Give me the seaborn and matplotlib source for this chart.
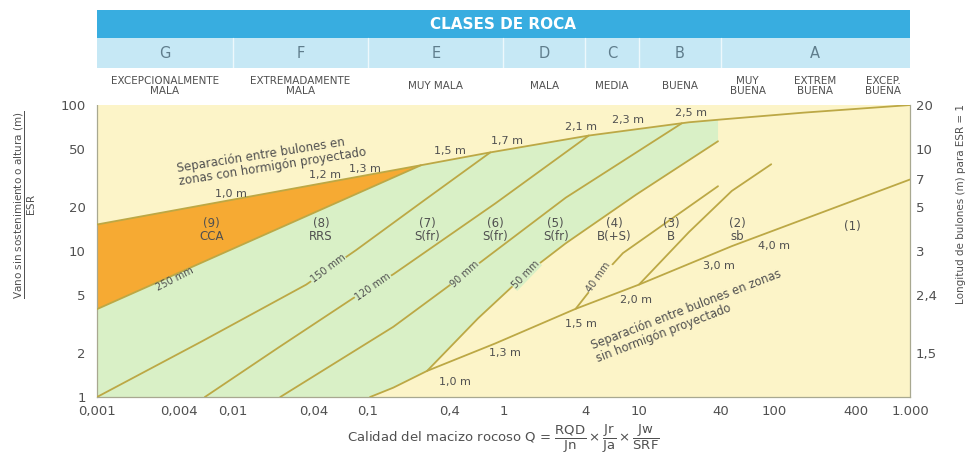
import numpy as np
import pandas as pd
import matplotlib
matplotlib.use('Agg')
import matplotlib.pyplot as plt
from matplotlib.ticker import NullLocator
import seaborn as sns

# ---- data (Q, span/ESR) ----
# bolt spacing line in areas with shotcrete (upper boundary)
top_q = [0.001, 0.246, 0.77, 4.26, 23.4, 38.3, 164, 1000]
top_s = [15.2, 38.7, 47.1, 61.8, 76.2, 79.3, 88.7, 100]
# lower edge of the CCA zone (250 mm)
cca_q = [0.001, 0.246]
cca_s = [4.0, 38.7]
# shotcrete thickness lines
l150_q = [0.001, 0.00596, 0.035, 0.0817, 0.259, 0.80]
l150_s = [1.0, 2.41, 5.89, 10.15, 22.2, 47.4]
l120_q = [0.00625, 0.0218, 0.0776, 0.154, 0.871, 4.26]
l120_s = [1.0, 2.18, 4.75, 6.94, 21.2, 61.8]
l90_q = [0.0225, 0.154, 0.518, 2.88, 20.7]
l90_s = [1.0, 3.03, 6.95, 23.2, 75.0]
l50_q = [0.273, 0.649, 1.456, 2.88, 9.5, 38.3]
l50_s = [1.51, 3.46, 6.95, 11.3, 24.3, 56.5]
l40_q = [3.41, 5.05, 7.61, 38.3]
l40_s = [4.02, 6.4, 9.68, 27.8]
# boundary between zones (3) and (2)
lb_q = [10, 23.4, 48.4, 94.6]
lb_s = [5.89, 13.5, 25.8, 39.3]
# bolt spacing line without shotcrete
bolt_q = [0.1035, 0.154, 0.273, 0.871, 3.41, 10, 48.4, 1000]
bolt_s = [1.0, 1.16, 1.51, 2.33, 4.02, 5.89, 10.8, 30.9]

# labels
top_lab = ['1,0 m', '1,2 m', '1,3 m', '1,5 m', '1,7 m', '2,1 m', '2,3 m', '2,5 m']
top_lab_q = [0.0097, 0.0483, 0.095, 0.40, 1.07, 3.72, 8.3, 24.3]
top_lab_s = [24.7, 33.3, 36.5, 48.5, 56.5, 70.8, 78.5, 88.7]
bolt_lab = ['1,0 m', '1,3 m', '1,5 m', '2,0 m', '3,0 m', '4,0 m']
bolt_lab_q = [0.435, 1.03, 3.72, 9.5, 39, 100]
bolt_lab_s = [1.26, 2.0, 3.14, 4.59, 7.93, 10.9]
shot_lab = ['250 mm', '150 mm', '120 mm', '90 mm', '50 mm', '40 mm']
shot_lab_q = [0.00372, 0.0508, 0.109, 0.518, 1.456, 5.05]
shot_lab_s = [6.4, 7.55, 5.7, 6.95, 6.95, 6.6]
shot_rot = [27, 37, 35, 42, 46, 55]
zone_lab = ['(9)\nCCA', '(8)\nRRS', '(7)\nS(fr)', '(6)\nS(fr)', '(5)\nS(fr)',
            '(4)\nB(+S)', '(3)\nB', '(2)\nsb', '(1)']
zone_q = [0.0070, 0.0451, 0.273, 0.871, 2.43, 6.53, 17.2, 53, 373]
zone_s = [13.9, 13.9, 13.9, 13.9, 13.9, 13.9, 13.9, 13.9, 14.8]

class_bounds = [0.001, 0.01, 0.1, 1, 4, 10, 40, 1000]
class_letters = ['G', 'F', 'E', 'D', 'C', 'B', 'A']
desc_bounds = [0.001, 0.01, 0.1, 1, 4, 10, 40, 100, 400, 1000]
desc_text = ['EXCEPCIONALMENTE\nMALA', 'EXTREMADAMENTE\nMALA', 'MUY MALA', 'MALA',
             'MEDIA', 'BUENA', 'MUY\nBUENA', 'EXTREM\nBUENA', 'EXCEP.\nBUENA']

x_ticks = [0.001, 0.004, 0.01, 0.04, 0.1, 0.4, 1, 4, 10, 40, 100, 400, 1000]
x_labels = ['0,001', '0,004', '0,01', '0,04', '0,1', '0,4', '1', '4', '10', '40', '100', '400', '1.000']
y_ticks = [1, 2, 5, 10, 20, 50, 100]
r_ticks = [100, 50, 31, 20, 10, 5, 2]
r_labels = ['20', '10', '7', '5', '3', '2,4', '1,5']

sns.set_theme(style='white')
plt.rcParams['font.family'] = ['DejaVu Sans']
plt.rcParams['mathtext.default'] = 'regular'

yellow = '#fcf4c8'
green = '#d9f0c6'
orange = '#f6aa33'
line_c = '#bca845'
txt_c = '#505050'

fig = plt.figure(figsize=(9.72, 4.66), dpi=100)
fig.patch.set_facecolor('white')
ax = fig.add_axes([0.0998, 0.148, 0.8364, 0.6266])
ax.set_xscale('log')
ax.set_yscale('log')
ax.set_xlim(0.001, 1000)
ax.set_ylim(1, 100)
ax.set_facecolor(yellow)

# green zone polygon
green_q = top_q[1:6] + l50_q[::-1] + bolt_q[1::-1] + [0.001] + cca_q
green_s = top_s[1:6] + l50_s[::-1] + bolt_s[1::-1] + [1.0] + cca_s
ax.fill(green_q, green_s, color=green, lw=0, zorder=1)
# orange CCA zone
ax.fill(top_q[:2] + cca_q[::-1], top_s[:2] + cca_s[::-1], color=orange, lw=0, zorder=2)

lines = [(top_q, top_s), (cca_q, cca_s), (l150_q, l150_s), (l120_q, l120_s),
         (l90_q, l90_s), (l50_q, l50_s), (l40_q, l40_s), (lb_q, lb_s), (bolt_q, bolt_s)]
for qq, ss in lines:
    df = pd.DataFrame({'Q': qq, 'S': ss})
    sns.lineplot(data=df, x='Q', y='S', sort=False, estimator=None, ax=ax,
                 color=line_c, lw=1.3, zorder=3)

fs = 8
for t, q, s in zip(top_lab, top_lab_q, top_lab_s):
    ax.text(q, s, t, ha='center', va='center', fontsize=fs, color=txt_c, zorder=5)
for t, q, s in zip(bolt_lab, bolt_lab_q, bolt_lab_s):
    ax.text(q, s, t, ha='center', va='center', fontsize=fs, color=txt_c, zorder=5)
bg = [None, green, green, green, green, yellow]
for t, q, s, r, b in zip(shot_lab, shot_lab_q, shot_lab_s, shot_rot, bg):
    box = dict(facecolor=b, edgecolor='none', pad=0.5) if b else None
    ax.text(q, s, t, ha='center', va='center', fontsize=7, color=txt_c,
            rotation=r, bbox=box, zorder=5)
for t, q, s in zip(zone_lab, zone_q, zone_s):
    ax.text(q, s, t, ha='center', va='center', fontsize=8.5, color=txt_c,
            linespacing=1.0, zorder=5)

ax.text(0.0195, 41.8, 'Separación entre bulones en\nzonas con hormigón proyectado',
        ha='center', va='center', rotation=9, fontsize=8.5, color=txt_c,
        multialignment='left', linespacing=1.0, zorder=5)
ax.text(23.4, 3.58, 'Separación entre bulones en zonas\nsin hormigón proyectado',
        ha='center', va='center', rotation=21, fontsize=8.3, color=txt_c,
        multialignment='left', linespacing=1.0, zorder=5)

ax.set_xticks(x_ticks)
ax.set_xticklabels(x_labels)
ax.set_yticks(y_ticks)
ax.set_yticklabels([str(v) for v in y_ticks])
ax.xaxis.set_minor_locator(NullLocator())
ax.yaxis.set_minor_locator(NullLocator())
ax.tick_params(axis='both', length=0, labelsize=9.5, colors=txt_c)
ax.tick_params(axis='x', pad=6)
ax.tick_params(axis='y', pad=8)
ax.set_xlabel(r'Calidad del macizo rocoso Q = $\dfrac{RQD}{Jn}\times\dfrac{Jr}{Ja}\times\dfrac{Jw}{SRF}$',
              fontsize=9.5, color=txt_c, labelpad=3)
ax.set_ylabel(r'$\dfrac{\mathrm{Vano\ sin\ sostenimiento\ o\ altura\ (m)}}{\mathrm{ESR}}$',
              fontsize=7.5, color=txt_c)
ax.yaxis.set_label_coords(-0.073, 0.66)
for sp in ax.spines.values():
    sp.set_color('#a8a890')
    sp.set_linewidth(0.9)
ax.spines['top'].set_visible(False)
ax.grid(False)

ax2 = ax.twinx()
ax2.set_yscale('log')
ax2.set_ylim(1, 100)
ax2.set_yticks(r_ticks)
ax2.set_yticklabels(r_labels)
ax2.yaxis.set_minor_locator(NullLocator())
ax2.tick_params(axis='y', length=0, labelsize=9.5, colors=txt_c, pad=4)
ax2.set_ylabel('Longitud de bulones (m) para ESR = 1', fontsize=7.5, color=txt_c)
ax2.yaxis.set_label_coords(1.057, 0.66)
for sp in ax2.spines.values():
    sp.set_visible(False)
ax2.grid(False)

# header with rock classes
hx = fig.add_axes([0.0998, 0.7747, 0.8364, 0.2038])
hx.set_xscale('log')
hx.set_xlim(0.001, 1000)
hx.set_ylim(0, 95)
hx.axhspan(0, 37, color='white', lw=0)
hx.axhspan(37, 67, color='#c6e8f5', lw=0)
hx.axhspan(67, 95, color='#38ade0', lw=0)
for b in class_bounds[1:-1]:
    hx.plot([b, b], [37, 67], color='white', lw=1.0, alpha=0.7)
hx.text(np.sqrt(0.001 * 1000), 81, 'CLASES DE ROCA', ha='center', va='center',
        fontsize=11, fontweight='bold', color='white')
for i, letter in enumerate(class_letters):
    xc = np.sqrt(class_bounds[i] * class_bounds[i + 1])
    hx.text(xc, 52, letter, ha='center', va='center', fontsize=10.5, color='#5f7d8c')
for i, d in enumerate(desc_text):
    xc = np.sqrt(desc_bounds[i] * desc_bounds[i + 1])
    hx.text(xc, 19, d, ha='center', va='center', fontsize=7.5, color=txt_c, linespacing=1.1)
hx.axis('off')

fig.savefig('out.png', dpi=100)
